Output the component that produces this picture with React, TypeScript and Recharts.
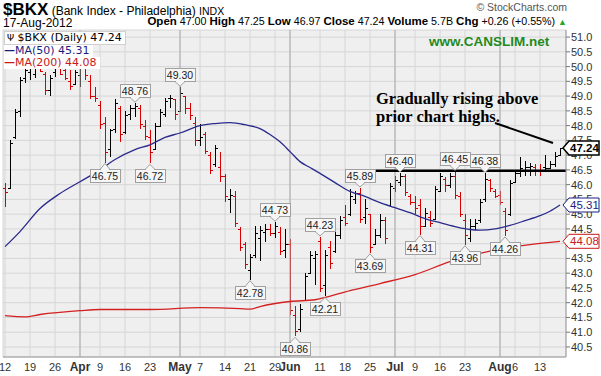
import React from 'react';
import {
  ComposedChart,
  Bar,
  Line,
  XAxis,
  YAxis,
  CartesianGrid,
  ReferenceLine,
  ReferenceDot,
} from 'recharts';

// ---- data (one row per trading day, Mar 12 .. Aug 17 2012) ----

const tickIdx = [0, 5, 10, 15, 19, 24, 29, 35, 39, 44, 49, 54, 57, 63, 68, 73, 78, 82, 87, 92, 99, 102, 107];
const tickText = ['12', '19', '26', 'Apr', '9', '16', '23', 'May', '7', '14', '21', '29', 'Jun', '11', '18', '25', 'Jul', '9', '16', '23', 'Aug', '6', '13'];
const monthIdx = [15, 35, 57, 78, 99];
const yTicks = [40.5, 41, 41.5, 42, 42.5, 43, 43.5, 44, 44.5, 45, 45.5, 46, 46.5, 47, 47.5, 48, 48.5, 49, 49.5, 50, 50.5, 51];

const prevClose0 = 46.1;

const opens = [
  45.9, 45.9, 47.6, 48.5, 49.6, 49.8, 49.75, 50.0, 49.75, 49.2,
  49.8, 50.1, 49.9, 49.5, 49.4, 49.7, 49.95, 49.5, 49.0, 48.7,
  48.1, 47.2, 47.9, 48.6, 47.8, 48.4, 48.6, 48.6, 48.0, 47.6,
  47.2, 48.0, 48.4, 48.95, 48.9, 48.5, 49.0, 48.6, 48.1, 47.5,
  47.7, 47.0, 46.7, 46.6, 46.3, 45.5, 45.6, 44.5, 44.0, 43.1,
  43.6, 44.2, 44.4, 44.5, 44.35, 44.4, 43.8, 44.0, 41.6, 41.1,
  42.1, 43.0, 43.5, 44.1, 42.6, 43.9, 43.75, 44.3, 44.9, 45.0,
  45.5, 45.7, 44.9, 45.0, 44.0, 44.3, 44.8, 45.3, 45.9, 46.1,
  46.3, 45.6, 45.4, 45.3, 44.6, 44.9, 44.85, 45.8, 46.2, 46.0,
  46.3, 45.6, 44.8, 44.2, 44.6, 44.8, 45.5, 46.15, 45.8, 45.65,
  45.1, 45.0, 46.1, 46.4, 46.5, 46.6, 46.6, 46.5, 46.6, 46.55,
  46.7, 47.0,
];
const highs = [
  46.05, 47.5, 48.55, 49.65, 50.0, 50.1, 50.2, 50.1, 49.8, 49.7,
  50.2, 50.15, 50.1, 49.9, 49.9, 50.15, 50.05, 49.7, 49.3, 48.85,
  48.3, 47.9, 48.9, 48.65, 48.5, 48.7, 48.76, 48.7, 48.2, 47.85,
  48.1, 48.55, 48.95, 49.05, 48.9, 49.3, 49.0, 48.75, 48.3, 48.05,
  47.8, 47.1, 47.35, 47.1, 46.35, 45.85, 45.8, 44.55, 44.05, 43.65,
  44.6, 44.6, 44.65, 44.65, 44.73, 44.55, 44.5, 44.15, 41.9, 41.95,
  43.0, 43.75, 43.75, 44.23, 43.8, 44.1, 44.45, 44.95, 45.3, 45.85,
  45.8, 45.89, 45.5, 45.0, 44.5, 45.0, 44.9, 46.05, 46.3, 46.4,
  46.35, 45.7, 45.6, 45.5, 45.2, 45.1, 45.95, 46.4, 46.27, 46.38,
  46.45, 45.75, 45.0, 44.85, 44.82, 45.5, 46.38, 46.2, 45.85, 45.8,
  45.2, 46.15, 46.5, 46.95, 46.8, 46.72, 46.7, 46.7, 47.0, 46.8,
  47.1, 47.25,
];
const lows = [
  45.25, 45.85, 47.55, 48.3, 49.45, 49.55, 49.6, 49.8, 49.05, 49.0,
  49.65, 49.7, 49.55, 49.2, 49.4, 49.3, 49.55, 48.9, 48.8, 47.9,
  46.75, 46.95, 47.75, 47.45, 47.7, 48.2, 48.3, 47.9, 47.5, 46.72,
  47.2, 48.0, 48.3, 48.6, 48.2, 48.45, 48.4, 48.2, 47.3, 47.3,
  47.05, 46.35, 46.6, 46.1, 45.4, 45.05, 44.55, 43.75, 43.15, 42.78,
  43.5, 43.4, 44.05, 44.25, 44.2, 43.6, 43.5, 41.6, 40.86, 41.0,
  42.05, 43.0, 42.6, 42.35, 42.21, 43.15, 43.7, 44.15, 44.6, 44.95,
  45.35, 44.7, 44.65, 43.69, 44.0, 44.2, 44.0, 45.3, 45.75, 45.95,
  45.6, 45.3, 45.0, 44.31, 44.55, 44.55, 44.8, 45.8, 45.75, 45.9,
  45.5, 44.9, 43.96, 44.05, 44.45, 44.7, 45.4, 45.75, 45.55, 45.3,
  44.26, 44.95, 46.1, 46.25, 46.3, 46.3, 46.3, 46.3, 46.45, 46.55,
  46.6, 46.97,
];
const closes = [
  45.75, 47.4, 48.45, 49.55, 49.9, 50.0, 50.05, 49.85, 49.2, 49.6,
  50.05, 49.75, 49.6, 49.35, 49.8, 50.0, 49.7, 49.0, 48.95, 48.05,
  47.1, 47.85, 48.75, 47.7, 48.35, 48.6, 48.65, 48.05, 47.65, 47.1,
  48.0, 48.45, 48.85, 48.95, 48.4, 49.1, 48.6, 48.35, 47.5, 47.6,
  47.15, 46.5, 47.25, 46.3, 45.6, 45.65, 44.7, 43.9, 43.3, 43.55,
  44.35, 44.45, 44.5, 44.35, 44.6, 43.75, 44.0, 41.75, 41.05, 41.8,
  42.9, 43.6, 43.65, 42.5, 43.6, 43.35, 44.3, 44.8, 44.7, 45.6,
  45.7, 44.85, 45.2, 43.9, 44.3, 44.8, 44.2, 45.95, 46.15, 46.3,
  45.75, 45.4, 45.2, 44.6, 45.05, 44.7, 45.85, 46.3, 46.0, 46.3,
  45.65, 45.0, 44.3, 44.6, 44.7, 45.4, 46.2, 45.9, 45.6, 45.4,
  44.45, 46.05, 46.4, 46.55, 46.6, 46.62, 46.5, 46.45, 46.55, 46.7,
  46.98, 47.24,
];

// moving averages, read at a handful of days
const ma50Idx = [0, 3, 7, 11, 15, 19, 22, 26, 29, 32, 35, 39, 42, 45, 48, 51, 53, 55, 57, 59, 61, 63, 66, 69, 72, 75, 78, 81, 84, 87, 90, 93, 95, 98, 101, 104, 107, 109, 111];
const ma50Val = [43.9, 44.41, 45.19, 45.7, 46.1, 46.5, 46.85, 47.19, 47.35, 47.6, 47.75, 48.0, 48.07, 48.1, 48.03, 47.9, 47.7, 47.45, 47.12, 46.78, 46.58, 46.38, 46.07, 45.77, 45.6, 45.39, 45.22, 45.05, 44.85, 44.71, 44.58, 44.48, 44.46, 44.5, 44.62, 44.78, 44.95, 45.1, 45.31];
const ma200Idx = [0, 4, 7, 15, 19, 29, 39, 47, 49, 51, 57, 62, 69, 75, 82, 89, 97, 105, 111];
const ma200Val = [41.56, 41.52, 41.6, 41.73, 41.77, 41.77, 41.83, 41.8, 41.78, 41.87, 42.04, 42.1, 42.41, 42.65, 42.95, 43.39, 43.75, 43.97, 44.08];

// annotated swing highs / lows
const noteIdx = [20, 26, 29, 35, 49, 54, 58, 63, 64, 71, 73, 79, 83, 90, 92, 96, 100];
const noteVal = [46.75, 48.76, 46.72, 49.3, 42.78, 44.73, 40.86, 44.23, 42.21, 45.89, 43.69, 46.4, 44.31, 46.45, 43.96, 46.38, 44.26];
const noteLow = [true, false, true, false, true, false, true, false, true, false, true, false, true, false, true, false, true];

const resistance = 46.47;
const arrowFrom = { x: 98, y: 48.09 };
const arrowTo = { x: 109.6, y: 47.41 };

const rows = opens.map((o, i) => {
  const prev = i === 0 ? prevClose0 : closes[i - 1];
  const a = ma50Idx.indexOf(i);
  const b = ma200Idx.indexOf(i);
  return {
    i,
    open: o,
    high: highs[i],
    low: lows[i],
    close: closes[i],
    up: closes[i] > prev,
    ma50: a >= 0 ? ma50Val[a] : null,
    ma200: b >= 0 ? ma200Val[b] : null,
  };
});

const UP = '#000000';
const DOWN = '#d80000';
const sans = '"Liberation Sans", Arial, sans-serif';
const X_DOMAIN = [-0.4, 112.2];
const Y_DOMAIN = [40.16, 51.24];
const MARGIN = { top: 30, right: 0, bottom: 0, left: 3 };

function OhlcShape(props: any) {
  const { x, y, width, height, payload } = props;
  if (x == null || !payload) return null;
  const top = Math.min(y, y + height);
  const h = Math.abs(height);
  const cx = Math.round(x + width / 2) + 0.5;
  const span = payload.high - payload.low;
  const k = span > 0 ? h / span : 0;
  const yo = Math.round(top + (payload.high - payload.open) * k) + 0.5;
  const yc = Math.round(top + (payload.high - payload.close) * k) + 0.5;
  const col = payload.up ? UP : DOWN;
  return (
    <g stroke={col} strokeWidth={1} shapeRendering="crispEdges">
      <line x1={cx} x2={cx} y1={top} y2={top + Math.max(h, 1)} />
      <line x1={cx - 2.5} x2={cx} y1={yo} y2={yo} />
      <line x1={cx} x2={cx + 2.5} y1={yc} y2={yc} />
    </g>
  );
}

function XTick(props: any) {
  const { x, y, payload } = props;
  const k = tickIdx.indexOf(payload.value);
  const t = tickText[k] ?? '';
  const month = monthIdx.includes(payload.value);
  return (
    <text x={x} y={y + 6} textAnchor="middle" fontSize={month ? 12 : 11} fontWeight={month ? 700 : 400} fill="#333" fontFamily={sans}>
      {t}
    </text>
  );
}

function Note(props: any) {
  const { cx, cy, text, low } = props;
  if (cx == null) return null;
  const w = 30;
  const h = 13;
  const bx = Math.round(cx - w / 2) + 0.5;
  const by = low ? Math.round(cy + 6) + 0.5 : Math.round(cy - 6 - h) + 0.5;
  const tip = low ? cy + 1 : cy - 1;
  const edge = low ? by : by + h;
  return (
    <g>
      <path d={`M${cx - 5},${edge} L${cx},${tip} L${cx + 5},${edge}`} fill="#f6f6f6" stroke="#a0a0a0" strokeWidth={1} />
      <rect x={bx} y={by} width={w} height={h} fill="#f6f6f6" stroke="#a0a0a0" strokeWidth={1} />
      <line x1={cx - 4} x2={cx + 4} y1={edge} y2={edge} stroke="#f6f6f6" strokeWidth={1.2} />
      <text x={cx} y={by + 10} textAnchor="middle" fontSize={10.5} fill="#222" fontFamily={sans}>
        {text}
      </text>
    </g>
  );
}

function Tag(props: any) {
  const { cx, cy, text, color, bold } = props;
  if (cx == null) return null;
  const x0 = cx - 3;
  const x1 = x0 + 6;
  const x2 = x0 + 36;
  const d = `M${x0},${cy} L${x1},${cy - 7} L${x2},${cy - 7} L${x2},${cy + 7} L${x1},${cy + 7} Z`;
  return (
    <g>
      <path d={d} fill="#fff" stroke={color} strokeWidth={bold ? 1.5 : 1} />
      <text x={x1 + 1} y={cy + 4} fontSize={11.5} fontWeight={bold ? 700 : 400} fill={color} fontFamily={sans}>
        {text}
      </text>
    </g>
  );
}

const lastClose = closes[closes.length - 1];
const lastMa50 = ma50Val[ma50Val.length - 1];
const lastMa200 = ma200Val[ma200Val.length - 1];

export default function App() {
  return (
    <div style={{ position: 'absolute', left: 0, top: 0, width: 601, height: 376, background: '#fff', overflow: 'hidden', fontFamily: sans }}>
      <ComposedChart width={601} height={376} data={rows} margin={MARGIN}>
        <CartesianGrid fill="#efefef" stroke="#d6d6d6" strokeWidth={1} />
        {monthIdx.map((m) => (
          <ReferenceLine key={m} x={m} stroke="#a9a9a9" strokeWidth={1} />
        ))}
        <XAxis
          type="number"
          dataKey="i"
          domain={X_DOMAIN}
          ticks={tickIdx}
          interval={0}
          height={19}
          tick={<XTick />}
          tickLine={false}
          axisLine={{ stroke: '#999' }}
          allowDataOverflow
        />
        <YAxis
          orientation="right"
          domain={Y_DOMAIN}
          ticks={yTicks}
          interval={0}
          width={35}
          tickSize={4}
          tickMargin={1}
          tickLine={{ stroke: '#777' }}
          axisLine={{ stroke: '#999' }}
          tickFormatter={(v: number) => v.toFixed(1)}
          tick={{ fontSize: 11, fill: '#333', fontFamily: sans }}
          allowDataOverflow
        />
        <Line type="monotone" dataKey="ma200" stroke="#d42020" strokeWidth={1.3} dot={false} connectNulls isAnimationActive={false} />
        <Line type="monotone" dataKey="ma50" stroke="#2a2a8c" strokeWidth={1.3} dot={false} connectNulls isAnimationActive={false} />
        <Bar dataKey={(d: any) => [d.low, d.high]} barSize={4} shape={<OhlcShape />} isAnimationActive={false} />
        <ReferenceLine
          segment={[{ x: 74, y: resistance }, { x: X_DOMAIN[1], y: resistance }]}
          stroke="#000"
          strokeWidth={2.5}
          ifOverflow="visible"
        />
        <ReferenceLine segment={[arrowFrom, arrowTo]} stroke="#000" strokeWidth={2} ifOverflow="visible" />
        {noteIdx.map((n, k) => (
          <ReferenceDot
            key={'n' + n}
            x={n}
            y={noteVal[k]}
            r={0}
            ifOverflow="visible"
            shape={(p: any) => <Note {...p} text={noteVal[k].toFixed(2)} low={noteLow[k]} />}
          />
        ))}
      </ComposedChart>

      {/* value tags on the right axis, drawn in a second chart on top so they cover the tick labels */}
      <div style={{ position: 'absolute', left: 0, top: 0, pointerEvents: 'none' }}>
        <ComposedChart width={601} height={376} data={rows} margin={{ top: 30, right: 35, bottom: 19, left: 3 }}>
          <XAxis type="number" dataKey="i" domain={X_DOMAIN} hide allowDataOverflow />
          <YAxis domain={Y_DOMAIN} hide allowDataOverflow />
          <ReferenceDot x={X_DOMAIN[1]} y={lastClose} r={0} ifOverflow="visible" shape={(p: any) => <Tag {...p} text={lastClose.toFixed(2)} color="#000" bold />} />
          <ReferenceDot x={X_DOMAIN[1]} y={lastMa50} r={0} ifOverflow="visible" shape={(p: any) => <Tag {...p} text={lastMa50.toFixed(2)} color="#1d1d80" />} />
          <ReferenceDot x={X_DOMAIN[1]} y={lastMa200} r={0} ifOverflow="visible" shape={(p: any) => <Tag {...p} text={lastMa200.toFixed(2)} color="#c81818" />} />
        </ComposedChart>
      </div>

      {/* header */}
      <div style={{ position: 'absolute', left: 3, top: 0, whiteSpace: 'nowrap', color: '#000' }}>
        <span style={{ fontSize: 17, fontWeight: 700 }}>$BKX</span>
        <span style={{ fontSize: 12 }}> (Bank Index - Philadelphia) </span>
        <span style={{ fontSize: 10.5 }}>INDX</span>
      </div>
      <div style={{ position: 'absolute', right: 34, top: 1, fontSize: 10.5, color: '#555' }}>© StockCharts.com</div>
      <div style={{ position: 'absolute', left: 3, top: 16, fontSize: 12, color: '#000' }}>17-Aug-2012</div>
      <div style={{ position: 'absolute', right: 34, top: 15, fontSize: 10.7, color: '#000', whiteSpace: 'nowrap' }}>
        <b style={{ fontSize: 11.5 }}>Open</b> 47.00 <b style={{ fontSize: 11.5 }}>High</b> 47.25 <b style={{ fontSize: 11.5 }}>Low</b> 46.97{' '}
        <b style={{ fontSize: 11.5 }}>Close</b> 47.24 <b style={{ fontSize: 11.5 }}>Volume</b> 5.7B <b style={{ fontSize: 11.5 }}>Chg</b> +0.26 (+0.55%){' '}
        <span style={{ color: '#22aa22', fontSize: 9 }}>▲</span>
      </div>

      {/* legend */}
      <div style={{ position: 'absolute', left: 4, top: 31, fontFamily: '"DejaVu Sans", Verdana, sans-serif', fontSize: 11 }}>
        <div style={{ background: '#fff', border: '1px solid #d0d0d0', padding: '0 3px 0 2px', lineHeight: '12px', width: 'fit-content' }}>
          <span style={{ fontSize: 9 }}>Ψ</span> $BKX (Daily) 47.24
        </div>
        <div style={{ background: '#fff', lineHeight: '12px', color: '#1d1d80', width: 'fit-content', paddingRight: 3 }}>
          <span style={{ fontWeight: 700 }}>—</span>MA(50) 45.31
        </div>
        <div style={{ background: '#fff', lineHeight: '12px', color: '#c81818', width: 'fit-content', paddingRight: 3 }}>
          <span style={{ fontWeight: 700 }}>—</span>MA(200) 44.08
        </div>
      </div>

      {/* watermark and note */}
      <div style={{ position: 'absolute', left: 429, top: 34, fontSize: 13.5, fontWeight: 700, color: '#1f8a1f' }}>www.CANSLIM.net</div>
      <div style={{ position: 'absolute', left: 376, top: 90, fontSize: 16.5, fontWeight: 700, lineHeight: '18px', fontFamily: '"Liberation Serif", "Times New Roman", serif', color: '#000' }}>
        Gradually rising above
        <br />
        prior chart highs.
      </div>
    </div>
  );
}
